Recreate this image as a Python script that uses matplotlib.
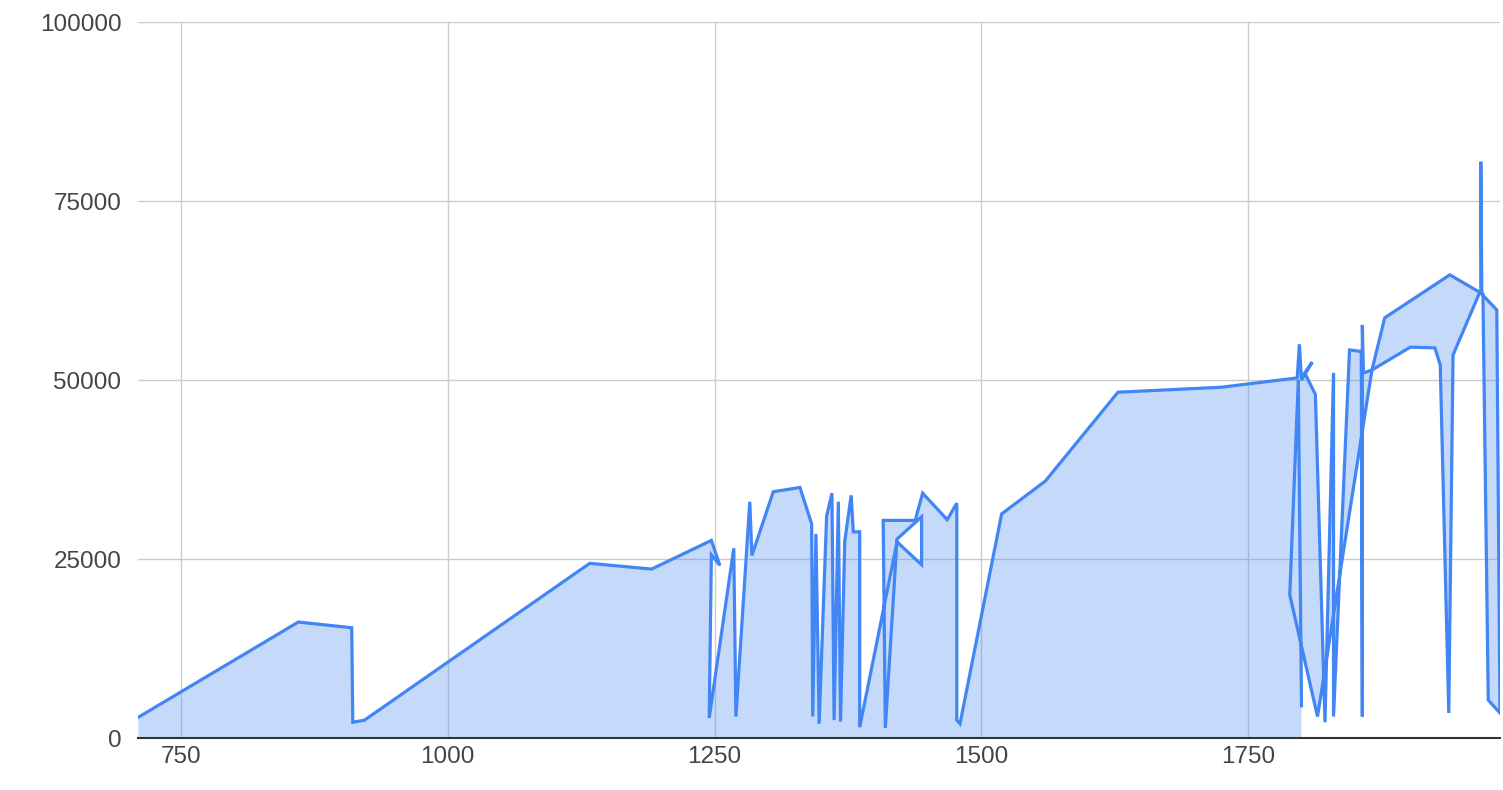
import numpy as np
import matplotlib.pyplot as plt

# values, in the order the line draws them
x_vals = [710, 860, 910, 911, 922, 1133, 1191, 1240, 1247, 1255, 1247, 1245,
          1268, 1270, 1283, 1285, 1305, 1330, 1341, 1342, 1345, 1348, 1355,
          1360, 1362, 1366, 1368, 1372, 1378, 1380, 1386, 1386, 1421, 1444,
          1444, 1421, 1410, 1408, 1438, 1445, 1468, 1477, 1477, 1480, 1519,
          1560, 1628, 1725, 1796,
          1798, 1800, 1810, 1803, 1813, 1822, 1830, 1830, 1845, 1856, 1857,
          1857, 1858, 1866, 1902, 1925, 1930, 1938, 1942, 1968, 1968, 1969,
          1983, 1986, 1975, 1970, 1939, 1878, 1866, 1815, 1789, 1797, 1800]
y_vals = [2900, 16200, 15400, 2200, 2500, 24400, 23600, 27100, 27600, 24100,
          25600, 2800, 26500, 3000, 33000, 25500, 34400, 35000, 29900, 3000,
          28500, 2000, 31000, 34200, 2500, 33000, 2300, 27500, 33900, 28800,
          28800, 1500, 27400, 24200, 30900, 27800, 1400, 30400, 30400, 34200,
          30500, 32800, 2500, 2000, 31300, 35900, 48300, 49000, 50300,
          55000, 50000, 52500, 51000, 48000, 2200, 51000, 3000, 54200, 54000,
          3000, 57700, 51000, 51400, 54600, 54500, 52100, 3500, 53500, 62600,
          80500, 62000, 59800, 3500, 5300, 62000, 64700, 58700, 51400, 3000,
          20000, 50000, 4500]

x_ticks = [750, 1000, 1250, 1500, 1750]
y_ticks = [0, 25000, 50000, 75000, 100000]

plt.rcParams['font.family'] = ['Liberation Sans', 'DejaVu Sans']

fig = plt.figure(figsize=(15.03, 7.90), dpi=100)
ax = fig.add_axes([0.0918, 0.0658, 0.9062, 0.9062])

x = np.array(x_vals, dtype=float)
y = np.array(y_vals, dtype=float)

# area polygon closed along the baseline, like the sheets chart does
ax.fill(np.r_[x, x[-1], x[0]], np.r_[y, 0, 0], color='#4285F4', alpha=0.3, lw=0)
ax.plot(x, y, color='#4285F4', lw=2.3, solid_joinstyle='miter')

ax.set_xlim(709.7, 1986)
ax.set_ylim(0, 100000)
ax.set_xticks(x_ticks)
ax.set_yticks(y_ticks)
ax.set_xticklabels([str(v) for v in x_ticks])
ax.set_yticklabels([str(v) for v in y_ticks])
ax.grid(True, color='#cccccc', lw=1)
ax.set_axisbelow(True)
for s in ['top', 'right', 'left']:
    ax.spines[s].set_visible(False)
ax.spines['bottom'].set_color('#333333')
ax.spines['bottom'].set_linewidth(1.5)
ax.spines['bottom'].set_zorder(5)
ax.tick_params(length=0, labelsize=17.5, labelcolor='#444444')
ax.tick_params(axis='y', pad=12)
ax.tick_params(axis='x', pad=6)

plt.savefig('out.png', dpi=100)
